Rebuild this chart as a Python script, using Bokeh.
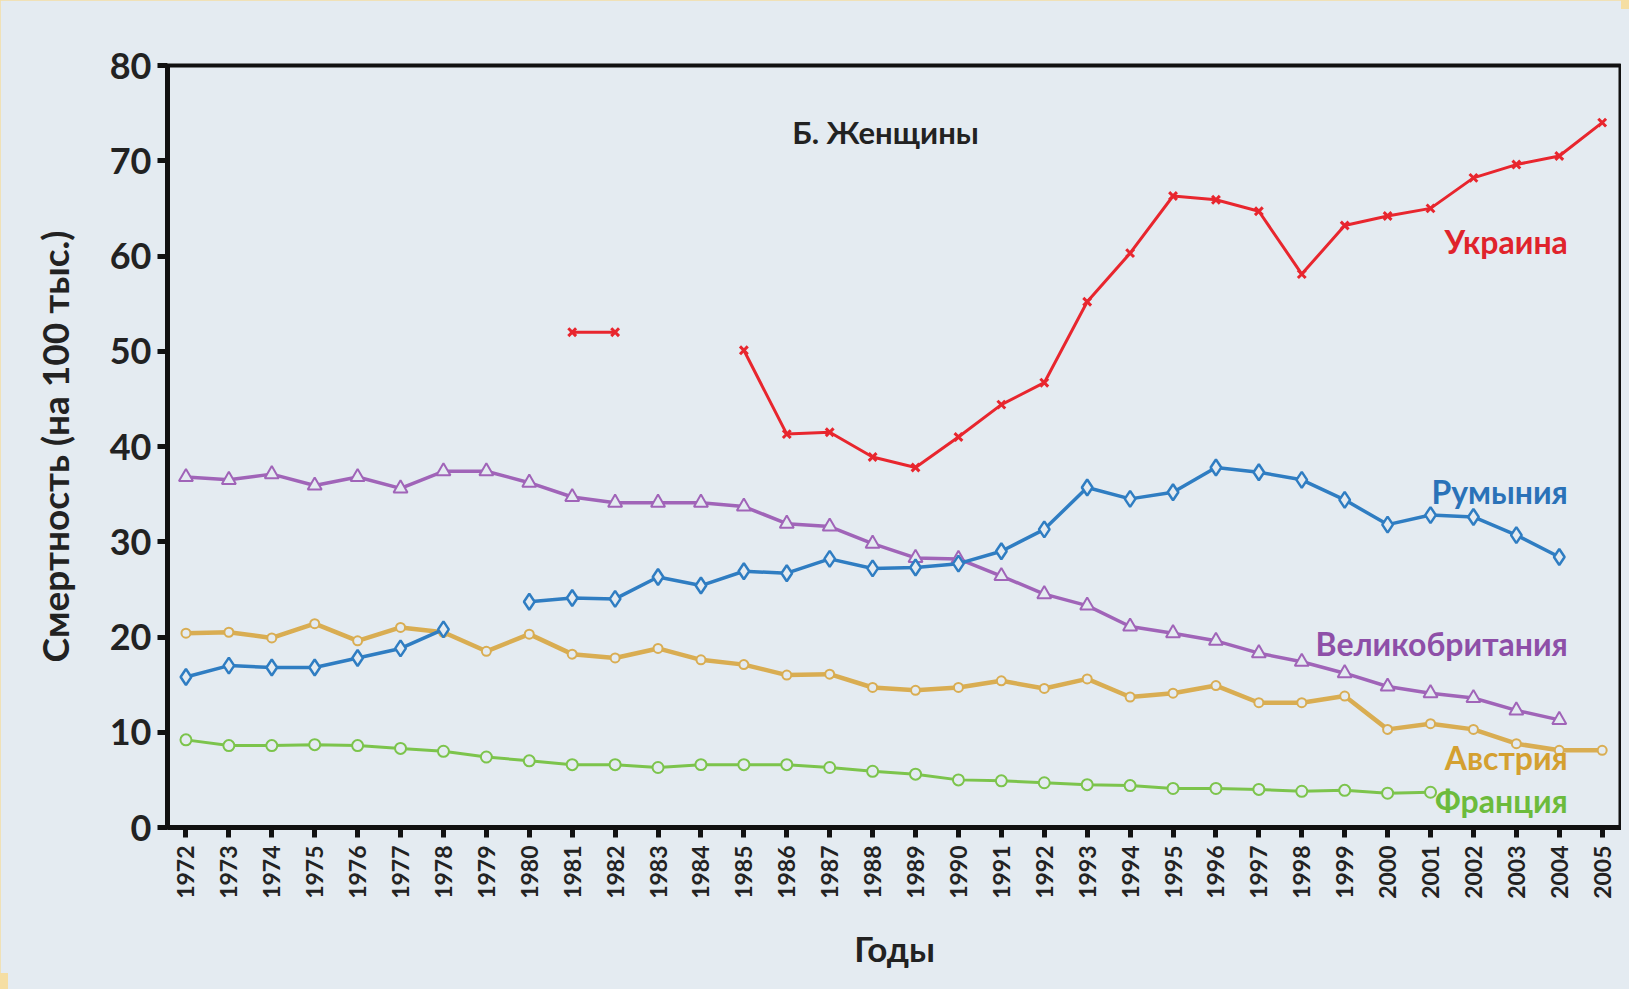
import math
from bokeh.plotting import figure
from bokeh.models import FixedTicker, Range1d, Label
from bokeh.embed import file_html
from bokeh.resources import INLINE

nan = float("nan")

years = list(range(1972, 2006))

ukraine = [nan]*9 + [52.0, 52.0, nan, nan, 50.1, 41.3, 41.5, 38.9, 37.8, 41.0, 44.4, 46.7,
                     55.2, 60.3, 66.3, 65.9, 64.7, 58.1, 63.2, 64.2, 65.0, 68.2, 69.6, 70.5, 74.0]

romania = [15.8, 17.0, 16.8, 16.8, 17.8, 18.8, 20.8, nan, 23.7, 24.1, 24.0, 26.3, 25.4, 26.9,
           26.7, 28.2, 27.2, 27.3, 27.7, 29.0, 31.3, 35.7, 34.5, 35.2, 37.8, 37.3, 36.5, 34.4,
           31.8, 32.8, 32.6, 30.7, 28.4, nan]

britain = [36.8, 36.5, 37.1, 35.9, 36.8, 35.6, 37.4, 37.4, 36.2, 34.7, 34.1, 34.1, 34.1, 33.7,
           31.9, 31.6, 29.8, 28.3, 28.2, 26.4, 24.5, 23.3, 21.1, 20.4, 19.6, 18.3, 17.4, 16.2,
           14.8, 14.1, 13.6, 12.3, 11.3, nan]

austria = [20.4, 20.5, 19.9, 21.4, 19.6, 21.0, 20.5, 18.5, 20.3, 18.2, 17.8, 18.8, 17.6, 17.1,
           16.0, 16.1, 14.7, 14.4, 14.7, 15.4, 14.6, 15.6, 13.7, 14.1, 14.9, 13.1, 13.1, 13.8,
           10.3, 10.9, 10.3, 8.8, 8.1, 8.1]

france = [9.2, 8.6, 8.6, 8.7, 8.6, 8.3, 8.0, 7.4, 7.0, 6.6, 6.6, 6.3, 6.6, 6.6, 6.6, 6.3, 5.9,
          5.6, 5.0, 4.9, 4.7, 4.5, 4.4, 4.1, 4.1, 4.0, 3.8, 3.9, 3.6, 3.7, nan, nan, nan, nan]

y_ticks = [0, 10, 20, 30, 40, 50, 60, 70, 80]

title_text = "Б. Женщины"
y_title = "Смертность (на 100 тыс.)"
x_title = "Годы"
series_names = ["Украина", "Румыния", "Великобритания", "Австрия", "Франция"]

BG = "#e4ebf1"
FONT = "Lato"

p = figure(width=1621, height=973, output_backend="svg", toolbar_location=None,
           x_range=Range1d(1971.57, 2005.45), y_range=Range1d(0, 80),
           min_border_left=167, min_border_right=0, min_border_top=65, min_border_bottom=146,
           background_fill_color=BG, border_fill_color=BG)

p.grid.visible = False
p.outline_line_color = "#111111"
p.outline_line_width = 4

for ax in (p.xaxis[0], p.yaxis[0]):
    ax.axis_line_width = 5
    ax.axis_line_color = "#111111"
    ax.major_tick_line_width = 5
    ax.major_tick_line_color = "#111111"
    ax.major_tick_out = 10
    ax.major_tick_in = 0
    ax.minor_tick_line_color = None
    ax.major_label_text_font = FONT
    ax.major_label_text_font_style = "bold"
    ax.major_label_text_color = "#222222"
    ax.axis_label_text_font = FONT
    ax.axis_label_text_font_style = "bold"
    ax.axis_label_text_color = "#222222"

p.xaxis.ticker = FixedTicker(ticks=years)
p.xaxis.major_label_orientation = math.pi / 2
p.xaxis.major_label_text_font_size = "23px"
p.xaxis.major_label_standoff = 8
p.xaxis.axis_label = x_title
p.xaxis.axis_label_text_font_size = "35px"
p.xaxis.axis_label_standoff = 25

p.yaxis.ticker = FixedTicker(ticks=y_ticks)
p.yaxis.major_label_text_font_size = "36px"
p.yaxis.major_label_standoff = 6
p.yaxis.axis_label = y_title
p.yaxis.axis_label_text_font_size = "37px"
p.yaxis.axis_label_standoff = 30

RED = "#e8262e"
BLUE = "#2f7dc2"
PURPLE = "#a064b8"
GOLD = "#d9ad52"
GREEN = "#7cc44c"

p.line(years, austria, color=GOLD, line_width=4.5)
p.scatter(years, austria, marker="circle", size=9, line_color=GOLD, fill_color=BG, line_width=2)

p.line(years, france, color=GREEN, line_width=3)
p.scatter(years, france, marker="circle", size=11, line_color=GREEN, fill_color=BG, line_width=2)

p.line(years, britain, color=PURPLE, line_width=3.5)
p.scatter(years, britain, marker="triangle", size=14, line_color=PURPLE, fill_color=BG, line_width=2)

p.line(years, romania, color=BLUE, line_width=3.5)
p.scatter(years, romania, marker="diamond", size=16, line_color=BLUE, fill_color=BG, line_width=2.5)

p.line(years, ukraine, color=RED, line_width=3)
p.scatter(years, ukraine, marker="x", size=11, line_color=RED, line_width=3)

p.add_layout(Label(x=1988.3, y=73.0, text=title_text, text_font=FONT, text_font_style="bold",
                   text_font_size="31px", text_color="#222222", text_align="center",
                   text_baseline="middle"))

label_specs = [
    (series_names[0], 61.5, "#e0232b"),
    (series_names[1], 35.3, "#2a72b8"),
    (series_names[2], 19.3, "#8e4fa8"),
    (series_names[3], 7.3, "#d4a030"),
    (series_names[4], 2.8, "#6cbb3c"),
]
for name, yv, col in label_specs:
    p.add_layout(Label(x=2004.2, y=yv, text=name, text_font=FONT, text_font_style="bold",
                       text_font_size="32px", text_color=col, text_align="right",
                       text_baseline="middle"))

page_style = ("{% block preamble %}<style>html{overflow:hidden;background:"
              "linear-gradient(#f5dea3,#f5dea3) 0 0/100% 9px no-repeat,"
              "linear-gradient(#f5dea3,#f5dea3) 0 0/8px 100% no-repeat,#e4ebf1;}"
              "body{background:transparent;}"
              "</style>{% endblock %}")

open("out.html", "w").write(file_html(p, INLINE, template=page_style))
